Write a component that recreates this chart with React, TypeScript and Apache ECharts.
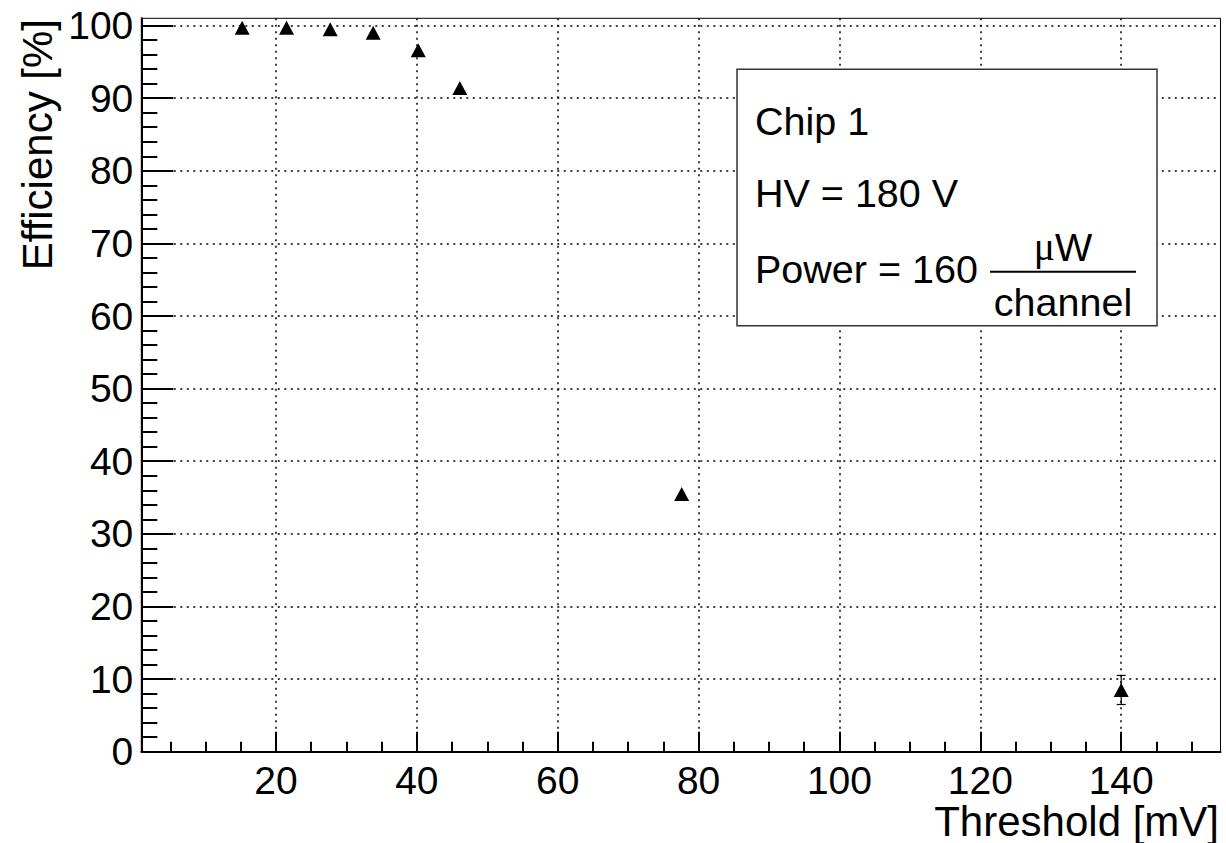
import React, { useEffect, useRef } from 'react';
import * as echarts from 'echarts';

// ---- data ----
const thresholds = [15.2, 21.5, 27.7, 33.8, 40.2, 46.1, 77.6, 140];
const efficiency = [99.7, 99.7, 99.5, 99.0, 96.6, 91.4, 35.5, 8.5];
const efficiencyErr = [0, 0, 0, 0, 0, 0, 0, 2.0];

const xRange = [0.88, 154.1];
const yRange = [0, 101];
const xMajorTicks = [20, 40, 60, 80, 100, 120, 140];
const xMinorTicks = [5, 10, 15, 25, 30, 35, 45, 50, 55, 65, 70, 75, 85, 90, 95, 105, 110, 115, 125, 130, 135, 145, 150];
const yMajorTicks = [0, 10, 20, 30, 40, 50, 60, 70, 80, 90, 100];
const yMinorTicks = [2, 4, 6, 8, 12, 14, 16, 18, 22, 24, 26, 28, 32, 34, 36, 38, 42, 44, 46, 48, 52, 54, 56, 58, 62, 64, 66, 68, 72, 74, 76, 78, 82, 84, 86, 88, 92, 94, 96, 98];

const xTitle = 'Threshold [mV]';
const yTitle = 'Efficiency [%]';
const infoLines = ['Chip 1', 'HV = 180 V', 'Power = 160'];

const FONT = "'Liberation Sans', Arial, Helvetica, sans-serif";
const SERIF = "'Liberation Serif', 'DejaVu Serif', serif";
const dotted = [2, 4.5];

export default function App() {
  const ref = useRef<HTMLDivElement>(null);

  useEffect(() => {
    const chart = echarts.init(ref.current!, null, { renderer: 'svg' });
    const txt = { fontFamily: FONT, fontSize: 39.5, fill: '#000' };

    chart.setOption({
      animation: false,
      backgroundColor: '#fff',
      grid: {
        left: 141.3,
        right: 5.5,
        top: 18.3,
        bottom: 91.3,
        show: true,
        borderColor: '#000',
        borderWidth: 1,
        backgroundColor: '#fff',
        containLabel: false,
        outerBoundsMode: 'none',
      },
      xAxis: [
        {
          type: 'value',
          position: 'bottom',
          min: xRange[0],
          max: xRange[1],
          axisLine: { show: true, lineStyle: { color: '#000', width: 2 } },
          axisTick: { show: true, inside: true, length: 20, customValues: xMajorTicks, lineStyle: { color: '#000', width: 2 } },
          axisLabel: {
            show: true,
            customValues: xMajorTicks,
            color: '#000',
            fontFamily: FONT,
            fontSize: 39,
            lineHeight: 34,
            margin: 11.5,
          },
          splitLine: { show: true, lineStyle: { color: '#000', width: 1.5, type: dotted } },
        },
        {
          type: 'value',
          position: 'bottom',
          min: xRange[0],
          max: xRange[1],
          axisLine: { show: false },
          axisTick: { show: true, inside: true, length: 10, customValues: xMinorTicks, lineStyle: { color: '#000', width: 2 } },
          axisLabel: { show: false },
          splitLine: { show: false },
        },
      ],
      yAxis: [
        {
          type: 'value',
          position: 'left',
          min: yRange[0],
          max: yRange[1],
          axisLine: { show: true, lineStyle: { color: '#000', width: 2 } },
          axisTick: { show: true, inside: true, length: 32, customValues: yMajorTicks, lineStyle: { color: '#000', width: 2 } },
          axisLabel: {
            show: true,
            customValues: yMajorTicks,
            color: '#000',
            fontFamily: FONT,
            fontSize: 39,
            margin: 8,
            padding: [4, 0, 0, 0],
          },
          splitLine: { show: true, lineStyle: { color: '#000', width: 1.5, type: dotted } },
        },
        {
          type: 'value',
          position: 'left',
          min: yRange[0],
          max: yRange[1],
          axisLine: { show: false },
          axisTick: { show: true, inside: true, length: 16, customValues: yMinorTicks, lineStyle: { color: '#000', width: 2 } },
          axisLabel: { show: false },
          splitLine: { show: false },
        },
      ],
      series: [
        {
          type: 'custom',
          xAxisIndex: 0,
          yAxisIndex: 0,
          z: 3,
          data: thresholds.map((t, i) => [t, efficiency[i], efficiencyErr[i]]),
          renderItem: (params: any, api: any) => {
            const x = api.value(0);
            const y = api.value(1);
            const e = api.value(2);
            if (!e) return { type: 'group', children: [] };
            const top = api.coord([x, y + e]);
            const bot = api.coord([x, y - e]);
            const c = 4.5;
            const st = { stroke: '#000', lineWidth: 1.2 };
            return {
              type: 'group',
              children: [
                { type: 'line', shape: { x1: top[0], y1: top[1], x2: bot[0], y2: bot[1] }, style: st },
                { type: 'line', shape: { x1: top[0] - c, y1: top[1], x2: top[0] + c, y2: top[1] }, style: st },
                { type: 'line', shape: { x1: bot[0] - c, y1: bot[1], x2: bot[0] + c, y2: bot[1] }, style: st },
              ],
            };
          },
        },
        {
          type: 'scatter',
          xAxisIndex: 0,
          yAxisIndex: 0,
          z: 5,
          symbol: 'triangle',
          symbolSize: [15, 14],
          itemStyle: { color: '#000', opacity: 1 },
          data: thresholds.map((t, i) => [t, efficiency[i]]),
        },
      ],
      graphic: [
        {
          type: 'text',
          z: 100,
          x: 1219,
          y: 821,
          style: { text: xTitle, fontFamily: FONT, fontSize: 42, lineHeight: 36, fill: '#000', align: 'right', verticalAlign: 'middle' },
        },
        {
          type: 'text',
          z: 100,
          x: 37,
          y: 19,
          rotation: Math.PI / 2,
          style: { text: yTitle, fontFamily: FONT, fontSize: 42, fill: '#000', align: 'right', verticalAlign: 'middle' },
        },
        {
          type: 'rect',
          z: 100,
          shape: { x: 737, y: 69.3, width: 420, height: 256.4 },
          style: { fill: '#fff', stroke: '#333', lineWidth: 1.5 },
        },
        {
          type: 'text',
          z: 101,
          x: 755,
          y: 120.5,
          style: { ...txt, text: infoLines[0], align: 'left', verticalAlign: 'middle' },
        },
        {
          type: 'text',
          z: 101,
          x: 755,
          y: 193,
          style: { ...txt, text: infoLines[1], align: 'left', verticalAlign: 'middle' },
        },
        {
          type: 'text',
          z: 101,
          x: 755,
          y: 269,
          style: { ...txt, text: infoLines[2], align: 'left', verticalAlign: 'middle' },
        },
        {
          type: 'text',
          z: 101,
          x: 1063,
          y: 246.5,
          style: {
            text: '{m|μ}{w|W}',
            align: 'center',
            verticalAlign: 'middle',
            rich: {
              m: { fontFamily: SERIF, fontSize: 39.5, fill: '#000', color: '#000' },
              w: { fontFamily: FONT, fontSize: 39.5, fill: '#000', color: '#000' },
            },
          },
        },
        {
          type: 'line',
          z: 101,
          shape: { x1: 990, y1: 271.7, x2: 1136, y2: 271.7 },
          style: { stroke: '#000', lineWidth: 2 },
        },
        {
          type: 'text',
          z: 101,
          x: 1063,
          y: 302,
          style: { ...txt, text: 'channel', align: 'center', verticalAlign: 'middle' },
        },
      ],
    });

    return () => chart.dispose();
  }, []);

  return (
    <div
      ref={ref}
      style={{ position: 'fixed', left: 0, top: 0, width: 1226, height: 843, background: '#fff' }}
    />
  );
}
